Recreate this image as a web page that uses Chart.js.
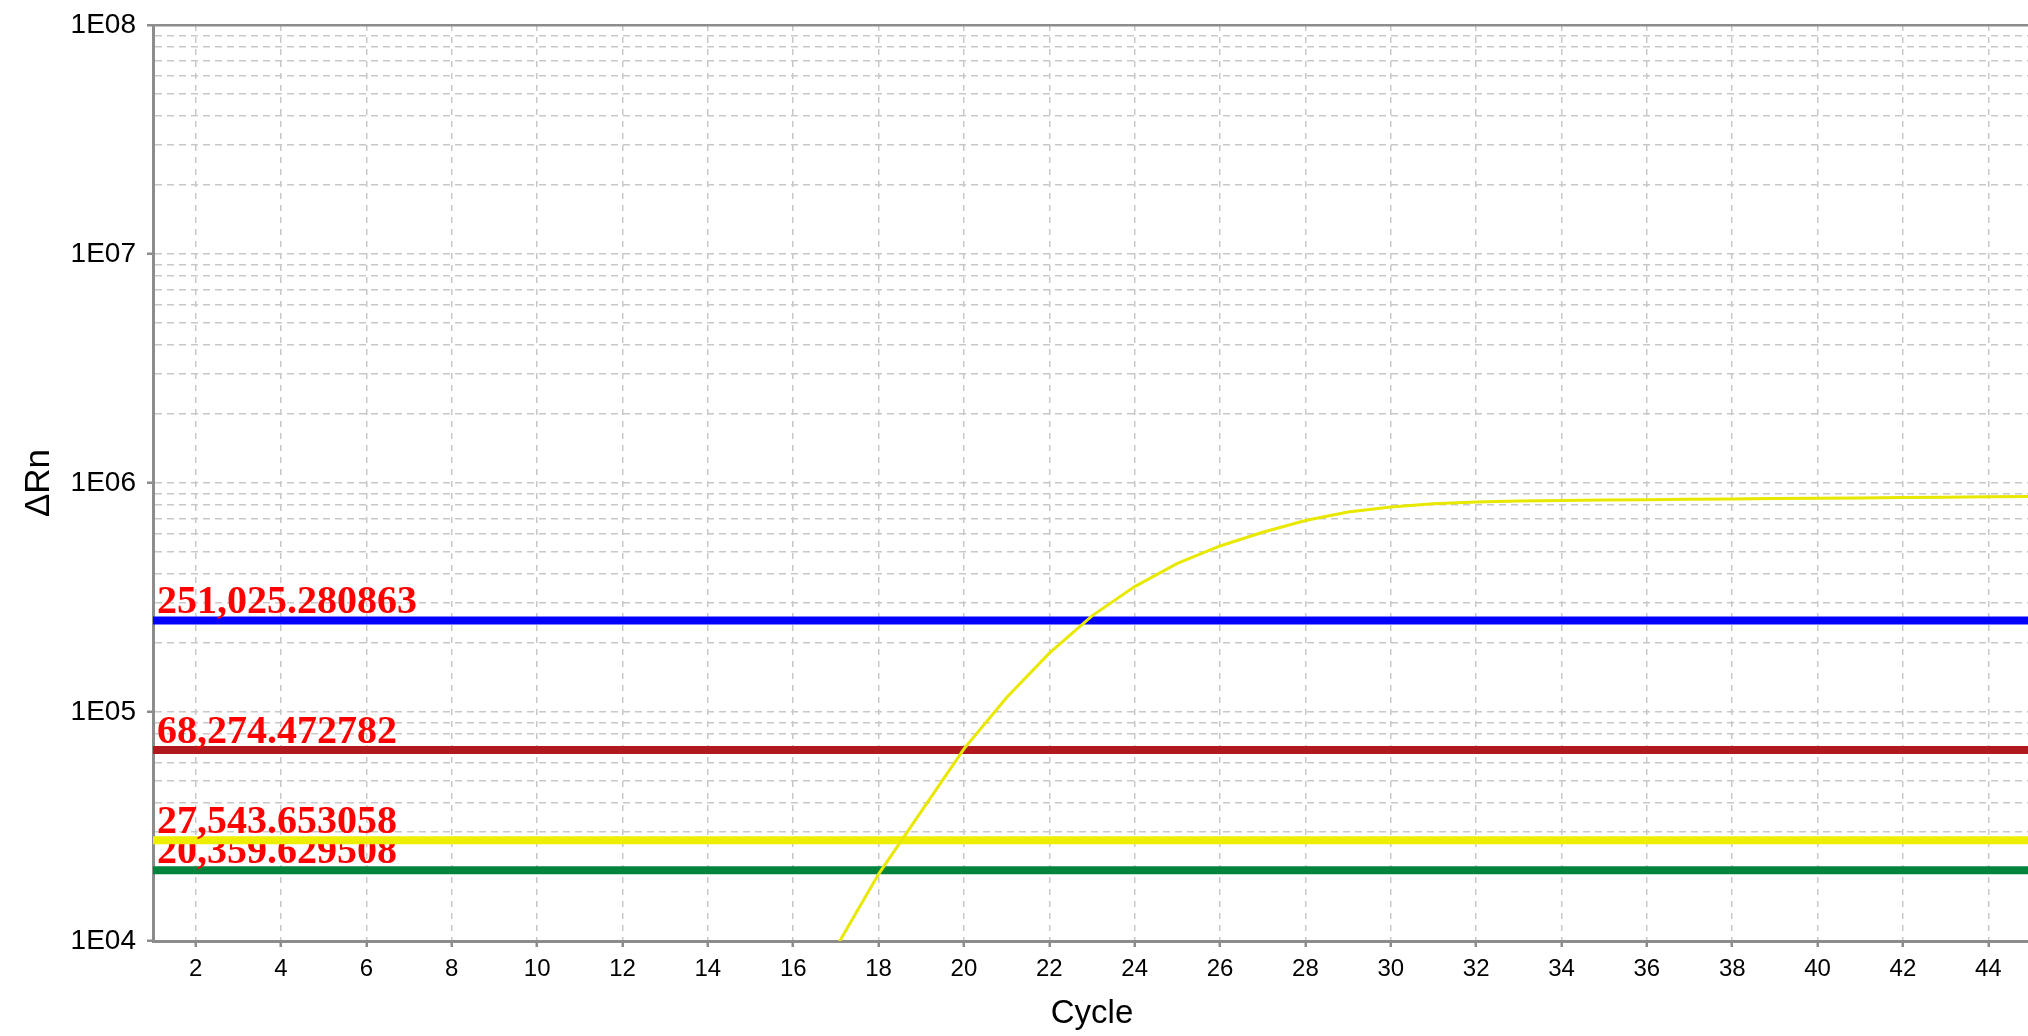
<!DOCTYPE html>
<html>
<head>
<meta charset="utf-8">
<script src="https://cdn.jsdelivr.net/npm/chart.js@4.4.1/dist/chart.umd.min.js"></script>
<style>
html,body{margin:0;padding:0;background:#fff;overflow:hidden;}
canvas{display:block;}
</style>
</head>
<body>
<canvas id="c" width="2031" height="1036" style="width:2031px;height:1036px;"></canvas>
<script>
// ---- data ----
const cycles  = [17,18,19,20,21,22,23,24,25,26,27,28,29,30,31,32,33,34,35,36,37,38,39,40,41,42,43,44,45];
const deltaRn = [9350,19600,36800,69000,115600,180700,263000,353000,445700,531000,609700,685600,746800,785000,811000,826000,834000,839000,843000,846000,849000,852000,855000,858000,861000,864000,867000,870000,873000];

const thresholdValues = [251025.280863, 68274.472782, 27543.653058, 20359.629508];
const thresholdLabels = ['251,025.280863', '68,274.472782', '27,543.653058', '20,359.629508'];
const thresholdColors = ['#0000ff', '#b0191e', '#eeee00', '#00843d'];

const xRange = [1, 45];
const xTicks = [2,4,6,8,10,12,14,16,18,20,22,24,26,28,30,32,34,36,38,40,42,44];
const yDecades = [1e4, 1e5, 1e6, 1e7, 1e8];
const yTickLabels = ['1E04', '1E05', '1E06', '1E07', '1E08'];

// minor log grid values (2..9 x each decade)
const yGridValues = [];
yDecades.forEach((d, i) => {
  yGridValues.push(d);
  if (i < yDecades.length - 1) for (let m = 2; m <= 9; m++) yGridValues.push(m * d);
});

Chart.defaults.font.family = '"Liberation Sans", Arial, sans-serif';
Chart.defaults.color = '#000';

const datasets = [{
  label: 'Amplification',
  data: cycles.map((c, i) => ({x: c, y: deltaRn[i]})),
  borderColor: '#e8e800',
  borderWidth: 3,
  pointRadius: 0,
  tension: 0,
  fill: false,
  clip: 0
}];
thresholdValues.forEach((v, i) => {
  datasets.push({
    label: thresholdLabels[i],
    thresholdLabel: thresholdLabels[i],
    thresholdValue: v,
    data: [{x: xRange[0], y: v}, {x: xRange[1], y: v}],
    borderColor: thresholdColors[i],
    borderWidth: 8,
    borderCapStyle: 'butt',
    pointRadius: 0,
    tension: 0,
    fill: false
  });
});

const thresholdLabelPlugin = {
  id: 'thresholdLabels',
  afterDatasetDraw(chart, args) {
    const ds = chart.data.datasets[args.index];
    if (!ds.thresholdLabel) return;
    const ctx = chart.ctx;
    const y = chart.scales.y.getPixelForValue(ds.thresholdValue);
    ctx.save();
    ctx.font = 'bold 40px "Liberation Serif", "Times New Roman", serif';
    ctx.fillStyle = '#ff0000';
    ctx.textAlign = 'left';
    ctx.textBaseline = 'alphabetic';
    ctx.fillText(ds.thresholdLabel, chart.chartArea.left + 4, y - 7);
    ctx.restore();
  }
};

const isTop = ctx => ctx.tick && ctx.tick.value === yDecades[yDecades.length - 1];

new Chart(document.getElementById('c'), {
  type: 'line',
  data: { datasets },
  plugins: [thresholdLabelPlugin],
  options: {
    responsive: false,
    devicePixelRatio: 1,
    animation: false,
    layout: { padding: { top: 15, right: 0, left: 0, bottom: 0 } },
    plugins: { legend: { display: false }, tooltip: { enabled: false }, title: { display: false } },
    scales: {
      x: {
        type: 'linear',
        min: xRange[0],
        max: xRange[1],
        afterBuildTicks: s => { s.ticks = xTicks.map(v => ({ value: v })); },
        afterFit: s => { s.height = 95; },
        ticks: {
          autoSkip: false, maxRotation: 0, padding: 8, color: '#000',
          font: { size: 24 },
          callback: v => String(v)
        },
        grid: { color: '#c8c8c8', lineWidth: 1.5, tickLength: 6, tickWidth: 2.5, tickColor: '#8c8c8c', tickBorderDash: [] },
        border: { color: '#8c8c8c', width: 3, dash: [6, 6] },
        title: { display: true, text: 'Cycle', color: '#000', font: { size: 33 }, padding: { top: 0, bottom: 2 } }
      },
      y: {
        type: 'logarithmic',
        min: yDecades[0],
        max: yDecades[yDecades.length - 1],
        afterBuildTicks: s => { s.ticks = yGridValues.map(v => ({ value: v })); },
        afterFit: s => { s.width = 153; },
        ticks: {
          autoSkip: false, padding: 11, color: '#000',
          font: { size: 28, lineHeight: 1 },
          callback: v => { const i = yDecades.indexOf(v); return i >= 0 ? yTickLabels[i] : ''; }
        },
        grid: {
          color: ctx => isTop(ctx) ? '#8c8c8c' : '#c8c8c8',
          lineWidth: ctx => isTop(ctx) ? 2.5 : 1.5,
          tickLength: 6, tickWidth: 2.5, tickBorderDash: [],
          tickColor: ctx => (ctx.tick && yDecades.includes(ctx.tick.value)) ? '#8c8c8c' : 'rgba(0,0,0,0)'
        },
        border: { color: '#8c8c8c', width: 3, dash: ctx => isTop(ctx) ? [] : [7, 5] },
        title: { display: true, text: 'ΔRn', color: '#000', font: { size: 35, lineHeight: 1.2 }, padding: { top: 18, bottom: 0 } }
      }
    }
  }
});
</script>
</body>
</html>
